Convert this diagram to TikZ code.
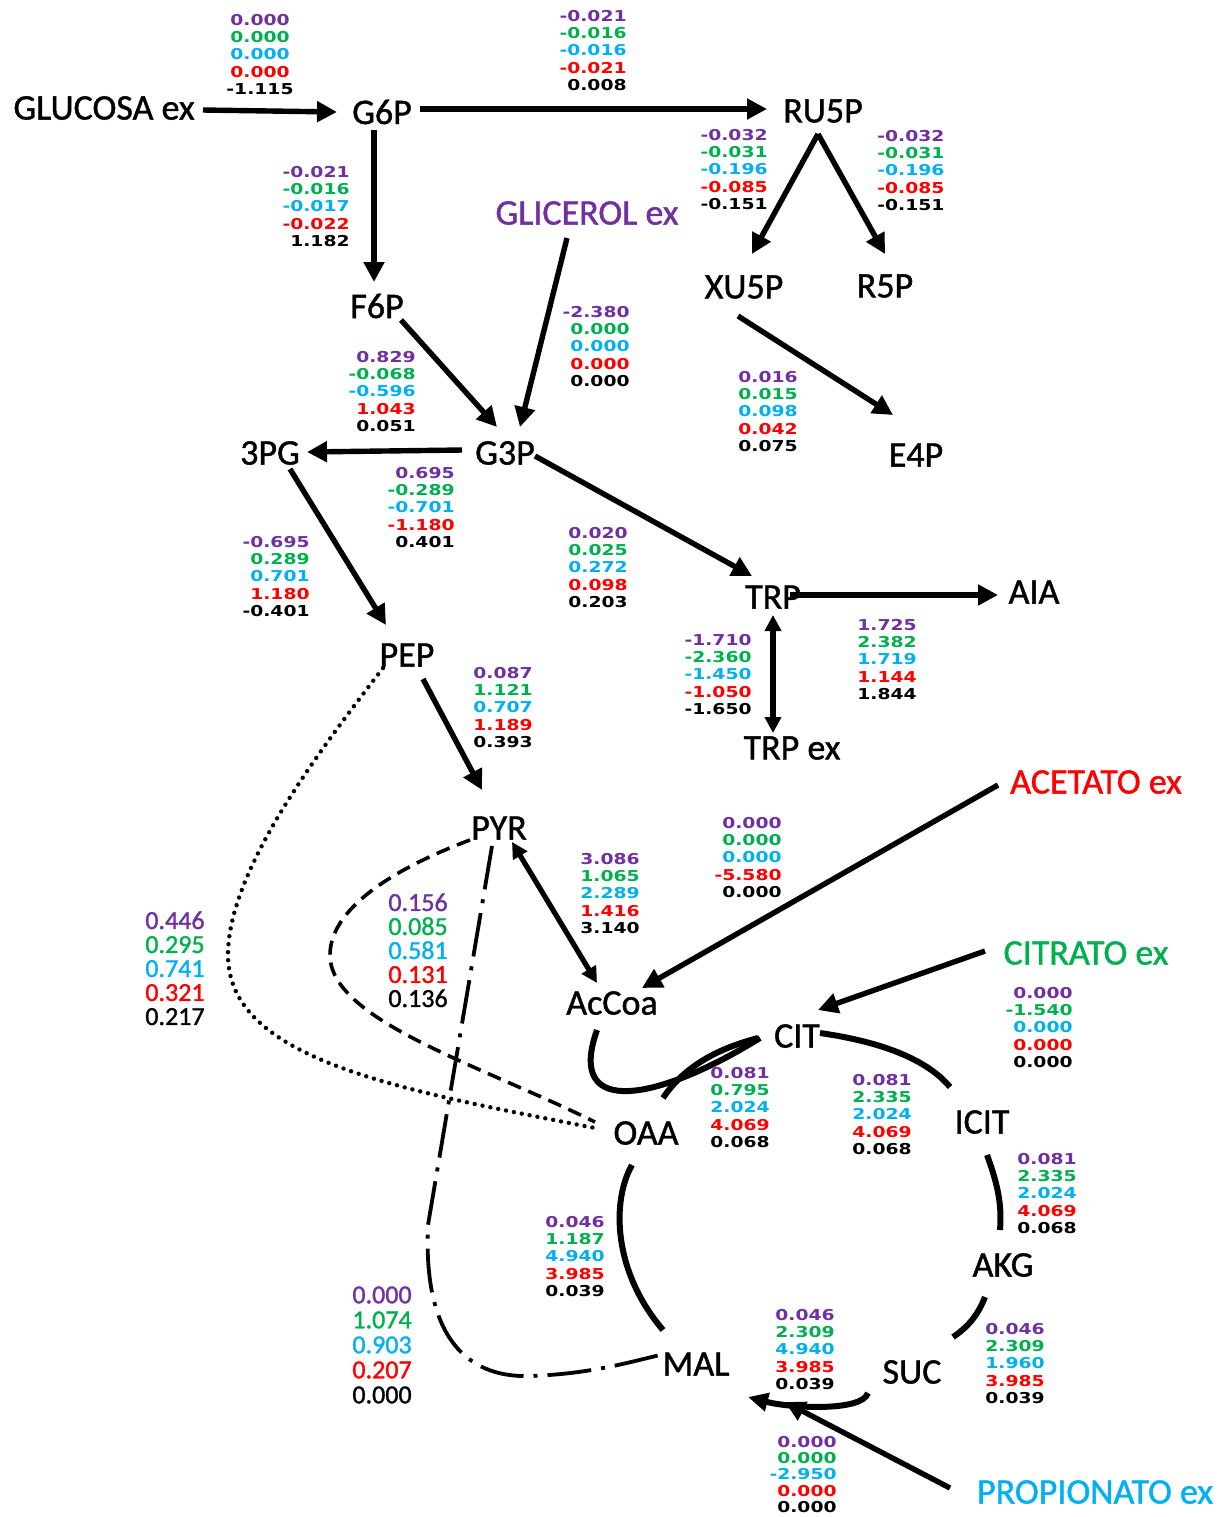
\documentclass[tikz,border=0pt]{standalone}
\usepackage{fontspec}
\setmainfont{Carlito}
\newfontfamily\lblf{Carlito}[FakeBold=1.2]
\newfontfamily\numf{DejaVu Sans}[FakeStretch=1.25]
\usetikzlibrary{arrows.meta}
\definecolor{vp}{RGB}{112,48,160}
\definecolor{vg}{RGB}{0,176,80}
\definecolor{vc}{RGB}{0,176,240}
\definecolor{vr}{RGB}{255,0,0}
\newcommand\fivel[5]{\textcolor{vp}{#1}\\\textcolor{vg}{#2}\\\textcolor{vc}{#3}\\\textcolor{vr}{#4}\\\textcolor{black}{#5}}
\begin{document}
\begin{tikzpicture}[x=0.5pt,y=-0.5pt,
  met/.style={font=\lblf\fontsize{18}{20}\selectfont, inner sep=0pt},
  nums/.style={font=\numf\bfseries\fontsize{7.5}{8.6}\selectfont, inner sep=0pt},
  bignums/.style={font=\lblf\fontsize{13}{12}\selectfont, inner sep=0pt},
  arr/.style={line width=2.7pt, -{Triangle[length=10pt,width=10pt]}},
  darr/.style={line width=2.6pt, {Triangle[length=8pt,width=8pt]}-{Triangle[length=8pt,width=8pt]}},
  cyc/.style={line width=3pt},
  dotline/.style={line width=2.2pt, dash pattern=on 0pt off 4pt, line cap=round},
  dashline/.style={line width=1.8pt, dash pattern=on 7pt off 4pt},
  dashdotline/.style={line width=1.9pt, dash pattern=on 22pt off 5pt on 2pt off 5pt}
]
\useasboundingbox (0,0) rectangle (1227,1517);

% metabolites
\node[met] (glc) at (104,108) {GLUCOSA ex};
\node[met] (g6p) at (382,112) {G6P};
\node[met] (ru5p) at (823,111) {RU5P};
\node[met] (f6p) at (377,306) {F6P};
\node[met, text=vp] (glic) at (587,213) {GLICEROL ex};
\node[met] (xu5p) at (744,287) {XU5P};
\node[met] (r5p) at (885,286) {R5P};
\node[met] (g3p) at (505,453) {G3P};
\node[met] (pg3) at (270,453) {3PG};
\node[met] (e4p) at (916,455) {E4P};
\node[met] (trp) at (773,597) {TRP};
\node[met] (aia) at (1034,592) {AIA};
\node[met] (pep) at (407,655) {PEP};
\node[met] (trpex) at (792,748) {TRP ex};
\node[met] (pyr) at (499,828) {PYR};
\node[met, text=vr] (acet) at (1096,782) {ACETATO ex};
\node[met] (accoa) at (612,1003) {AcCoa};
\node[met, text=vg] (citr) at (1086,953) {CITRATO ex};
\node[met] (cit) at (797,1036) {CIT};
\node[met] (oaa) at (646,1133) {OAA};
\node[met] (icit) at (982,1122) {ICIT};
\node[met] (akg) at (1003,1265) {AKG};
\node[met] (mal) at (696,1364) {MAL};
\node[met] (suc) at (912,1372) {SUC};
\node[met, text=vc] (prop) at (1095,1492) {PROPIONATO ex};

% straight arrows
\draw[arr] ([shift={(99,2)}]glc.center) -- ([shift={(-45,0)}]g6p.center);
\draw[arr] ([shift={(38,-3)}]g6p.center) -- ([shift={(-56,-2)}]ru5p.center);
\draw[arr] ([shift={(-8,18)}]g6p.center) -- ([shift={(-3,-24)}]f6p.center);
\draw[arr] ([shift={(-5,23)}]ru5p.center) -- ([shift={(8,-33)}]xu5p.center);
\draw[arr] ([shift={(-5,23)}]ru5p.center) -- ([shift={(0,-32)}]r5p.center);
\draw[arr] ([shift={(-20,25)}]glic.center) -- ([shift={(15,-26)}]g3p.center);
\draw[arr] ([shift={(24,14)}]f6p.center) -- ([shift={(-8,-26)}]g3p.center);
\draw[arr] ([shift={(-6,29)}]xu5p.center) -- ([shift={(-23,-40)}]e4p.center);
\draw[arr] ([shift={(-43,-3)}]g3p.center) -- ([shift={(37,-1)}]pg3.center);
\draw[arr] ([shift={(20,16)}]pg3.center) -- ([shift={(-21,-30)}]pep.center);
\draw[arr] ([shift={(30,3)}]g3p.center) -- ([shift={(-21,-21)}]trp.center);
\draw[arr] ([shift={(17,-2)}]trp.center) -- ([shift={(-36,3)}]aia.center);
\draw[darr] ([shift={(0,18)}]trp.center) -- ([shift={(-19,-15)}]trpex.center);
\draw[arr] ([shift={(16,24)}]pep.center) -- ([shift={(-17,-38)}]pyr.center);
\draw[darr] ([shift={(13,14)}]pyr.center) -- ([shift={(-15,-20)}]accoa.center);
\draw[arr] ([shift={(-98,3)}]acet.center) -- ([shift={(30,-15)}]accoa.center);
\draw[arr] ([shift={(-101,-2)}]citr.center) -- ([shift={(21,-26)}]cit.center);

% dotted, dashed, dash-dotted bypasses
\draw[dotline] ([shift={(-24,13)}]pep.center) .. controls (320,750) and (228,870) .. (228,955)
   .. controls (228,1060) and (400,1090) .. ([shift={(-51,-5)}]oaa.center);
\draw[dashline] ([shift={(-29,12)}]pyr.center) .. controls (390,870) and (330,910) .. (330,955)
   .. controls (330,1020) and (480,1065) .. ([shift={(-51,-11)}]oaa.center);
\draw[dashdotline] ([shift={(-7,18)}]pyr.center) -- (428,1225)
   .. controls (423,1335) and (465,1378) .. (530,1376)
   .. controls (590,1374) and (630,1362) .. ([shift={(-36,-9)}]mal.center);

% TCA cycle
\draw[cyc] ([shift={(-15,27)}]accoa.center) .. controls (565,1120) and (660,1100) .. ([shift={(-37,2)}]cit.center);
\draw[cyc] ([shift={(17,-35)}]oaa.center) .. controls (685,1065) and (720,1048) .. ([shift={(-39,2)}]cit.center);
\draw[cyc] ([shift={(23,-3)}]cit.center) .. controls (890,1043) and (930,1063) .. ([shift={(-32,-35)}]icit.center);
\draw[cyc] ([shift={(5,33)}]icit.center) .. controls (998,1185) and (1002,1205) .. ([shift={(-3,-35)}]akg.center);
\draw[cyc] ([shift={(-18,32)}]akg.center) .. controls (978,1315) and (968,1327) .. ([shift={(41,-35)}]suc.center);
\draw[cyc, -{Triangle[length=10pt,width=9pt]}] ([shift={(-44,21)}]suc.center) .. controls (862,1412) and (790,1408) .. ([shift={(52,33)}]mal.center);
\draw[arr] ([shift={(-145,-4)}]prop.center) -- ([shift={(89,38)}]mal.center);
\draw[cyc] ([shift={(-33,-34)}]mal.center) .. controls (612,1270) and (612,1200) .. ([shift={(-14,32)}]oaa.center);

% flux values
\node[nums, align=center, anchor=north] (v1) at (260,14) {\fivel{0.000}{0.000}{0.000}{0.000}{-1.115}};
\node[nums, align=right, anchor=north east] (v2) at (627,10) {\fivel{-0.021}{-0.016}{-0.016}{-0.021}{0.008}};
\node[nums, align=right, anchor=north east] (v3) at (350,166) {\fivel{-0.021}{-0.016}{-0.017}{-0.022}{1.182}};
\node[nums, align=right, anchor=north east] (v4) at (768,129) {\fivel{-0.032}{-0.031}{-0.196}{-0.085}{-0.151}};
\node[nums, align=left, anchor=north west] (v5) at (877,130) {\fivel{-0.032}{-0.031}{-0.196}{-0.085}{-0.151}};
\node[nums, align=right, anchor=north east] (v6) at (630,306) {\fivel{-2.380}{0.000}{0.000}{0.000}{0.000}};
\node[nums, align=right, anchor=north east] (v7) at (416,351) {\fivel{0.829}{-0.068}{-0.596}{1.043}{0.051}};
\node[nums, align=left, anchor=north west] (v8) at (738,371) {\fivel{0.016}{0.015}{0.098}{0.042}{0.075}};
\node[nums, align=right, anchor=north east] (v9) at (455,467) {\fivel{0.695}{-0.289}{-0.701}{-1.180}{0.401}};
\node[nums, align=right, anchor=north east] (v10) at (310,536) {\fivel{-0.695}{0.289}{0.701}{1.180}{-0.401}};
\node[nums, align=left, anchor=north west] (v11) at (568,527) {\fivel{0.020}{0.025}{0.272}{0.098}{0.203}};
\node[nums, align=right, anchor=north east] (v12) at (752,634) {\fivel{-1.710}{-2.360}{-1.450}{-1.050}{-1.650}};
\node[nums, align=left, anchor=north west] (v13) at (857,619) {\fivel{1.725}{2.382}{1.719}{1.144}{1.844}};
\node[nums, align=left, anchor=north west] (v14) at (473,667) {\fivel{0.087}{1.121}{0.707}{1.189}{0.393}};
\node[nums, align=left, anchor=north west] (v15) at (580,853) {\fivel{3.086}{1.065}{2.289}{1.416}{3.140}};
\node[nums, align=right, anchor=north east] (v16) at (782,817) {\fivel{0.000}{0.000}{0.000}{-5.580}{0.000}};
\node[nums, align=right, anchor=north east] (v17) at (1073,987) {\fivel{0.000}{-1.540}{0.000}{0.000}{0.000}};
\node[nums, align=left, anchor=north west] (v18) at (710,1067) {\fivel{0.081}{0.795}{2.024}{4.069}{0.068}};
\node[nums, align=left, anchor=north west] (v19) at (852,1074) {\fivel{0.081}{2.335}{2.024}{4.069}{0.068}};
\node[nums, align=left, anchor=north west] (v20) at (1017,1153) {\fivel{0.081}{2.335}{2.024}{4.069}{0.068}};
\node[nums, align=left, anchor=north west] (v21) at (545,1216) {\fivel{0.046}{1.187}{4.940}{3.985}{0.039}};
\node[nums, align=left, anchor=north west] (v22) at (775,1309) {\fivel{0.046}{2.309}{4.940}{3.985}{0.039}};
\node[nums, align=left, anchor=north west] (v23) at (985,1323) {\fivel{0.046}{2.309}{1.960}{3.985}{0.039}};
\node[nums, align=right, anchor=north east, font=\numf\bfseries\fontsize{7.5}{8.1}\selectfont] (v24) at (837,1436) {\fivel{0.000}{0.000}{-2.950}{0.000}{0.000}};
\node[bignums, align=right, anchor=north east] (v25) at (205,911) {\fivel{0.446}{0.295}{0.741}{0.321}{0.217}};
\node[bignums, align=left, anchor=north west] (v26) at (388,893) {\fivel{0.156}{0.085}{0.581}{0.131}{0.136}};
\node[bignums, align=left, anchor=north west, font=\lblf\fontsize{13}{12.5}\selectfont] (v27) at (352,1286) {\fivel{0.000}{1.074}{0.903}{0.207}{0.000}};
\end{tikzpicture}
\end{document}
